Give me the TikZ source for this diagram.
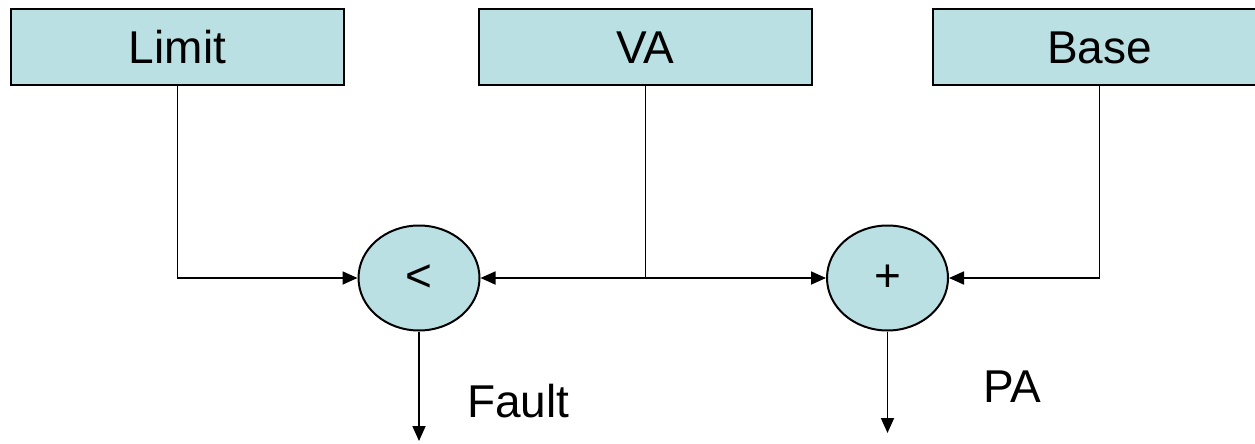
\documentclass[tikz,border=0pt]{standalone}
\usepackage{fontspec}
\setmainfont{Liberation Sans}
\usetikzlibrary{arrows.meta,shapes.geometric}
\definecolor{boxfill}{RGB}{187,224,227}
\tikzset{
  regbox/.style={draw=black, line width=2.2pt, fill=boxfill, rectangle,
    minimum width=333pt, minimum height=76pt, inner sep=0pt,
    text height=33pt, text depth=0pt, font=\fontsize{46}{55}\selectfont},
  opnode/.style={draw=black, line width=2pt, fill=boxfill, ellipse,
    minimum width=121pt, minimum height=105pt, inner sep=0pt,
    font=\fontsize{46}{55}\selectfont},
  wire/.style={line width=1.8pt, draw=black},
  feed/.style={wire, -{Triangle[length=15pt,width=13pt]}},
  outlabel/.style={anchor=base west, inner sep=0pt, font=\fontsize{46}{55}\selectfont}
}
\begin{document}
\begin{tikzpicture}[x=1pt, y=-1pt]
  \clip (0,0) rectangle (1255,444);
  \fill[white] (0,0) rectangle (1255,444);

  % registers
  \node[regbox] (limit) at (177.5,47) {Limit};
  \node[regbox] (va)    at (645.5,47) {VA};
  \node[regbox] (base)  at (1099.5,47) {Base};

  % comparator and adder
  \node[opnode] (lt)   at (419,278) {<};
  \node[opnode] (plus) at (887.5,278) {+};

  % junction under VA and free ends of the outputs
  \coordinate (split) at (va.south |- lt.east);
  \coordinate (faultend) at (lt.south |- 0,441);
  \coordinate (paend) at (plus.south |- 0,433);

  % inputs
  \draw[feed] (limit.south) |- (lt.west);
  \draw[wire] (va.south) -- (split);
  \draw[feed] (split) -- (lt.east);
  \draw[feed] (split) -- (plus.west);
  \draw[feed] (base.south) |- (plus.east);

  % outputs
  \draw[feed] (lt.south) -- (faultend);
  \draw[feed] (plus.south) -- (paend);

  \node[outlabel] (fault) at (467,417) {Fault};
  \node[outlabel] (pa) at (983,402) {PA};
\end{tikzpicture}
\end{document}
